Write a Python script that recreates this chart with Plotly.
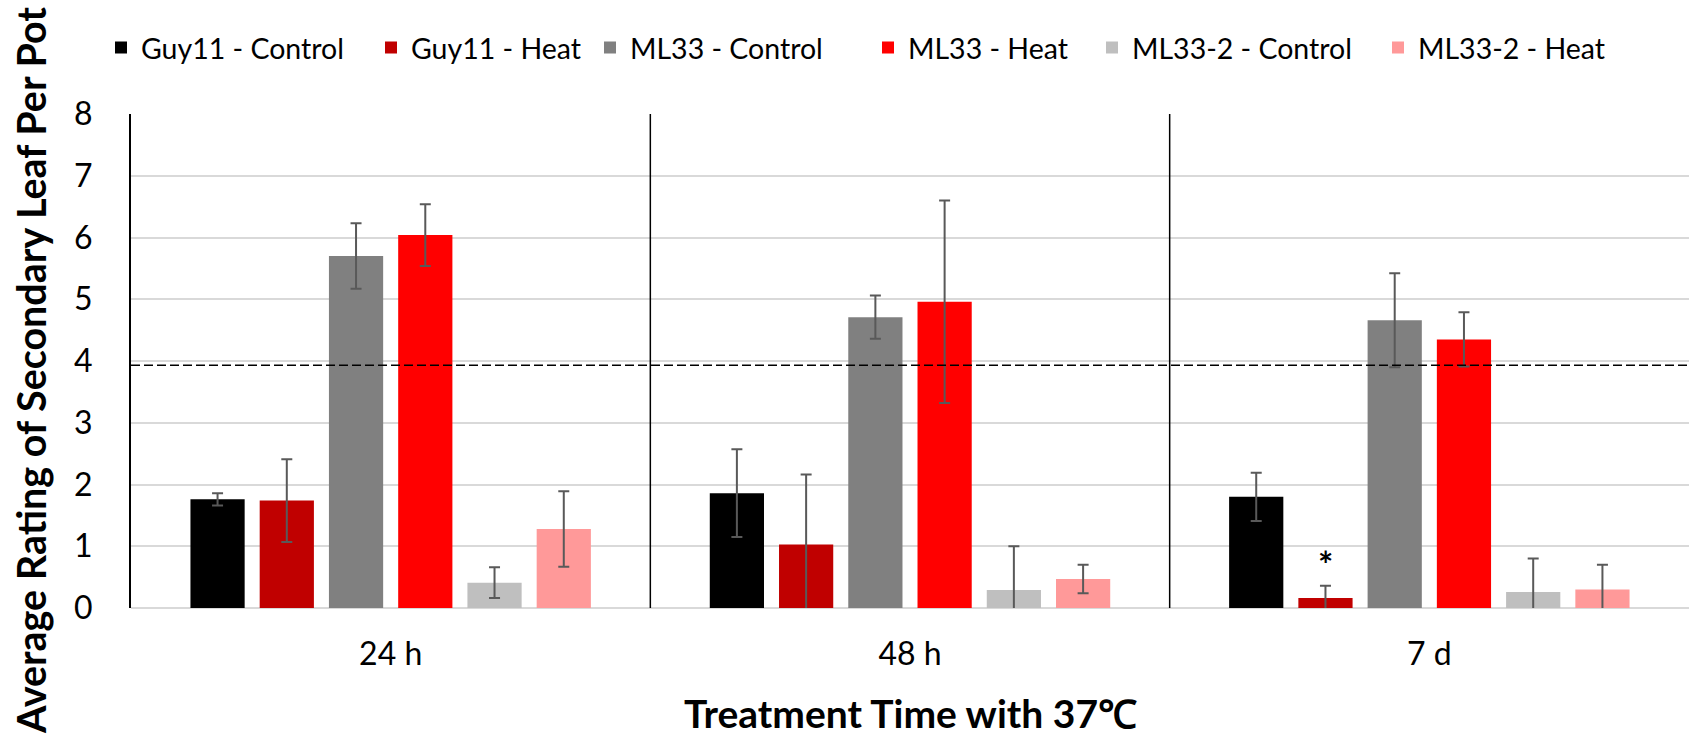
import plotly.graph_objects as go

# ---------------- data ----------------
groups = ["24 h", "48 h", "7 d"]
series_names = ["Guy11 - Control", "Guy11 - Heat", "ML33 - Control",
                "ML33 - Heat", "ML33-2 - Control", "ML33-2 - Heat"]
guy11_control = [1.76, 1.86, 1.80]
guy11_heat = [1.74, 1.03, 0.16]
ml33_control = [5.70, 4.71, 4.66]
ml33_heat = [6.04, 4.96, 4.35]
ml33_2_control = [0.41, 0.29, 0.26]
ml33_2_heat = [1.28, 0.47, 0.30]

err_guy11_control = [0.10, 0.71, 0.39]
err_guy11_heat = [0.67, 1.13, 0.20]
err_ml33_control = [0.53, 0.35, 0.76]
err_ml33_heat = [0.50, 1.64, 0.44]
err_ml33_2_control = [0.25, 0.71, 0.54]
err_ml33_2_heat = [0.61, 0.23, 0.40]

threshold = 3.93
y_ticks = [0, 1, 2, 3, 4, 5, 6, 7, 8]
significance_group = 2      # "7 d"
significance_series = 1     # Guy11 - Heat
significance_y = 0.81

colors = ["#000000", "#C00000", "#808080", "#FF0000", "#BFBFBF", "#FF9999"]
# legend swatch centres (pixels from the left of the picture)
legend_px = [121, 391, 610, 888, 1112, 1398]

values = [guy11_control, guy11_heat, ml33_control, ml33_heat, ml33_2_control, ml33_2_heat]
errors = [err_guy11_control, err_guy11_heat, err_ml33_control, err_ml33_heat,
          err_ml33_2_control, err_ml33_2_heat]

FONT = "Lato"
W, H = 1690, 736
ML, MR, MT, MB = 131, 1, 114, 128
BARGAP = 0.2
BARGROUPGAP = 0.217

x_idx = list(range(len(groups)))
pw = W - ML - MR
ph = H - MT - MB

fig = go.Figure()
legend_layouts = {}
for k, (name, vals, errs, col) in enumerate(zip(series_names, values, errors, colors)):
    lname = "legend" if k == 0 else f"legend{k + 1}"
    fig.add_trace(go.Bar(
        x=x_idx, y=vals, name=name, legend=lname,
        marker=dict(color=col, line=dict(width=0)),
        error_y=dict(type="data", array=errs, visible=True,
                     color="#595959", thickness=2, width=5.5),
    ))
    legend_layouts[lname] = dict(
        orientation="h", x=(legend_px[k] - 20 - ML) / pw, xanchor="left",
        y=(ph + (MT - 48)) / ph, yanchor="middle",
        font=dict(family=FONT, size=28.5, color="#000000"),
        bgcolor="rgba(0,0,0,0)", borderwidth=0,
    )

# separators between groups
shapes = []
for i in range(1, len(groups)):
    shapes.append(dict(type="line", xref="x", yref="y", x0=i - 0.5, x1=i - 0.5,
                       y0=0, y1=y_ticks[-1], line=dict(color="#000000", width=1.5)))
# threshold dashed line
shapes.append(dict(type="line", xref="paper", yref="y", x0=0, x1=1,
                   y0=threshold, y1=threshold,
                   line=dict(color="#000000", width=1.5, dash="9px,4px")))

# significance star position from bar geometry
n = len(series_names)
slot = (1 - BARGAP) / n
star_x = significance_group + (significance_series - (n - 1) / 2) * slot

annotations = [
    dict(text="<b>*</b>", x=star_x, y=significance_y, xref="x", yref="y",
         showarrow=False, font=dict(family=FONT, size=36, color="#000000"),
         yanchor="middle", yshift=-6),
    dict(text="<b>Treatment Time with 37℃</b>", xref="paper", yref="paper",
         x=0.5, y=(ph - (713 - MT)) / ph, xanchor="center", yanchor="middle",
         showarrow=False, font=dict(family=FONT, size=39, color="#000000")),
    dict(text="<b>Average Rating of Secondary Leaf Per Pot</b>", xref="paper", yref="paper",
         x=(30 - ML) / pw, y=(ph - (371 - MT)) / ph, xanchor="center", yanchor="middle",
         textangle=-90, showarrow=False, font=dict(family=FONT, size=39.5, color="#000000")),
]

fig.update_layout(
    width=W, height=H,
    margin=dict(l=ML, r=MR, t=MT, b=MB, autoexpand=False),
    paper_bgcolor="#FFFFFF", plot_bgcolor="#FFFFFF",
    barmode="group", bargap=BARGAP, bargroupgap=BARGROUPGAP,
    font=dict(family=FONT, color="#000000"),
    showlegend=True,
    shapes=shapes,
    annotations=annotations,
    xaxis=dict(range=[-0.5, len(groups) - 0.5], tickvals=x_idx, ticktext=groups,
               showgrid=False, zeroline=False, showline=False,
               ticks="outside", ticklen=18, tickcolor="rgba(0,0,0,0)",
               tickfont=dict(family=FONT, size=32, color="#000000")),
    yaxis=dict(range=[0, y_ticks[-1]], tickvals=y_ticks,
               showgrid=True, gridcolor="#D9D9D9", gridwidth=1.5,
               zeroline=True, zerolinecolor="#D9D9D9", zerolinewidth=1.5,
               showline=True, linecolor="#000000", linewidth=2,
               ticks="outside", ticklen=30, tickcolor="rgba(0,0,0,0)",
               tickfont=dict(family=FONT, size=32, color="#000000")),
    **legend_layouts,
)

fig.write_html("out.html", config={"displayModeBar": False},
               post_script="document.body.style.margin='0';document.body.style.overflow='hidden';")
